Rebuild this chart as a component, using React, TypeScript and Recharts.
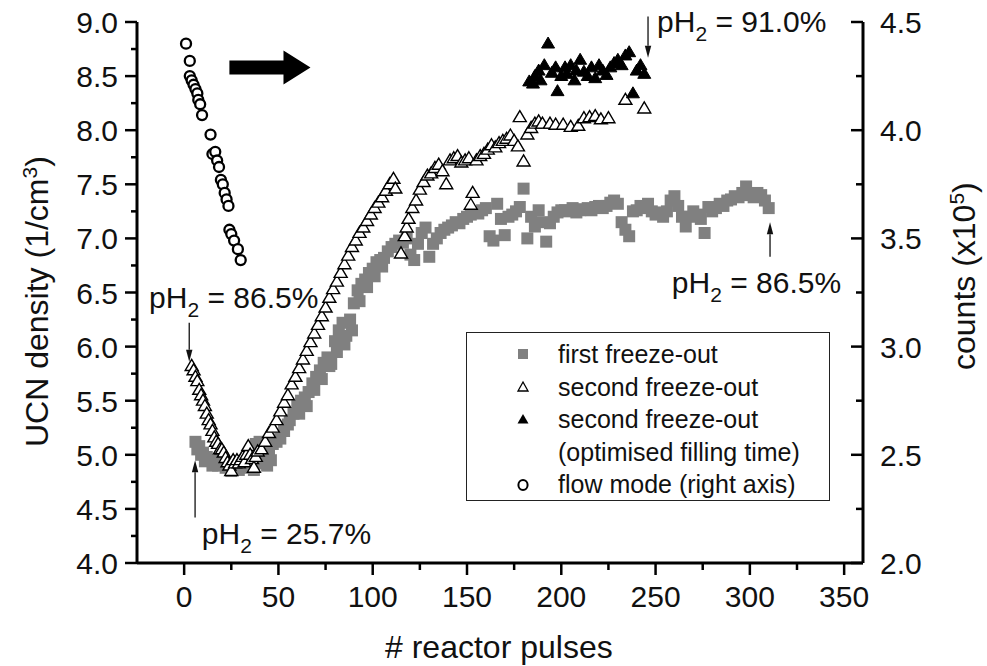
import React from "react";
import {
  ScatterChart,
  Scatter,
  XAxis,
  YAxis,
  ReferenceLine,
  ReferenceDot,
  Legend,
  Label,
} from "recharts";

const FONT = '"Liberation Sans", Arial, Helvetica, sans-serif';
const INK = "#111";

// tick values (major + minor)
const pulseTicks = [0, 25, 50, 75, 100, 125, 150, 175, 200, 225, 250, 275, 300, 325, 350];
const densityTicks = [4, 4.25, 4.5, 4.75, 5, 5.25, 5.5, 5.75, 6, 6.25, 6.5, 6.75, 7, 7.25, 7.5, 7.75, 8, 8.25, 8.5, 8.75, 9];
const countTicks = [2, 2.25, 2.5, 2.75, 3, 3.25, 3.5, 3.75, 4, 4.25, 4.5];

// first freeze-out: [pulse, UCN density]
const firstFreeze: [number, number][] = [
  [6, 5.12], [7, 5.05], [8, 5.08], [9, 5.0], [10, 5.02], [11, 4.94], [12, 4.98], [14, 4.95], [15, 4.9],
  [16, 4.93], [18, 4.9], [19, 4.95], [20, 4.92], [22, 4.88], [24, 4.9], [25, 4.85], [26, 4.88],
  [28, 4.9], [29, 4.86], [30, 4.92], [32, 4.88], [33, 4.94], [34, 4.9], [36, 4.92], [37, 4.86],
  [38, 5.1], [39, 4.95], [40, 5.12], [41, 5.05], [42, 4.92], [43, 5.08], [44, 4.9], [45, 5.02],
  [46, 4.95], [47, 5.1], [49, 5.12], [51, 5.15], [53, 5.22], [55, 5.28], [56, 5.32], [58, 5.38],
  [60, 5.45], [61, 5.38], [62, 5.5], [64, 5.53], [65, 5.45], [66, 5.58], [68, 5.66], [69, 5.6],
  [70, 5.72], [72, 5.78], [73, 5.7], [74, 5.85], [76, 5.9], [77, 5.82], [78, 5.84], [80, 6.05],
  [81, 5.95], [82, 6.15], [84, 6.22], [85, 6.02], [86, 6.1], [88, 6.25], [89, 6.15], [90, 6.4],
  [92, 6.52], [93, 6.42], [94, 6.58], [96, 6.62], [97, 6.55], [98, 6.68], [100, 6.72], [101, 6.65],
  [102, 6.78], [104, 6.8], [105, 6.74], [106, 6.82], [108, 6.88], [110, 6.92], [112, 6.95],
  [114, 6.98], [116, 6.96], [118, 7.0], [120, 6.85], [122, 6.8], [124, 6.95], [126, 7.05],
  [128, 7.1], [130, 6.83], [132, 6.95], [134, 7.0], [136, 7.05], [138, 7.08], [140, 7.1],
  [142, 7.12], [144, 7.15], [146, 7.14], [148, 7.18], [150, 7.2], [152, 7.22], [154, 7.24],
  [156, 7.23], [158, 7.26], [160, 7.28], [162, 7.02], [164, 6.98], [166, 7.32], [168, 7.18],
  [170, 7.03], [172, 7.2], [174, 7.22], [176, 7.25], [178, 7.29], [180, 7.46], [182, 7.0],
  [184, 7.2], [186, 7.11], [188, 7.26], [190, 7.15], [192, 6.97], [194, 7.14], [196, 7.2],
  [198, 7.24], [200, 7.26], [202, 7.26], [204, 7.25], [206, 7.28], [208, 7.24], [210, 7.26],
  [212, 7.27], [214, 7.28], [216, 7.26], [218, 7.29], [220, 7.3], [222, 7.28], [224, 7.3],
  [226, 7.33], [228, 7.35], [230, 7.32], [232, 7.15], [234, 7.08], [236, 7.02], [238, 7.25],
  [240, 7.26], [242, 7.3], [244, 7.28], [246, 7.32], [248, 7.25], [250, 7.22], [252, 7.24],
  [254, 7.2], [256, 7.25], [258, 7.35], [260, 7.39], [262, 7.3], [264, 7.2], [266, 7.11],
  [268, 7.2], [270, 7.25], [272, 7.22], [274, 7.18], [276, 7.05], [278, 7.29], [280, 7.25],
  [282, 7.28], [284, 7.32], [286, 7.3], [288, 7.35], [290, 7.36], [292, 7.39], [294, 7.38],
  [296, 7.42], [298, 7.48], [300, 7.4], [302, 7.38], [304, 7.42], [306, 7.4], [308, 7.35],
  [310, 7.28],
];

// second freeze-out
const secondFreeze: [number, number][] = [
  [4, 5.82], [5, 5.78], [6, 5.72], [7, 5.68], [8, 5.6], [9, 5.55], [10, 5.5], [11, 5.45],
  [12, 5.38], [13, 5.32], [14, 5.28], [15, 5.22], [16, 5.16], [17, 5.12], [18, 5.1], [19, 5.05],
  [20, 5.05], [21, 5.02], [22, 4.97], [23, 4.93], [24, 4.9], [25, 4.85], [26, 4.95], [27, 4.92],
  [28, 4.95], [29, 4.92], [30, 4.95], [31, 4.98], [32, 4.93], [33, 5.0], [34, 5.08], [35, 5.0],
  [36, 4.96], [37, 4.88], [38, 4.98], [39, 5.03], [41, 5.05], [43, 5.12], [45, 5.2], [47, 5.25],
  [49, 5.32], [51, 5.4], [53, 5.48], [55, 5.55], [57, 5.65], [59, 5.72], [61, 5.8], [63, 5.88],
  [65, 5.96], [67, 6.04], [69, 6.12], [71, 6.2], [73, 6.28], [75, 6.36], [77, 6.45], [79, 6.53],
  [81, 6.6], [83, 6.68], [85, 6.76], [87, 6.84], [89, 6.92], [91, 6.98], [93, 7.05], [95, 7.1],
  [97, 7.16], [99, 7.22], [101, 7.28], [103, 7.33], [105, 7.38], [107, 7.44], [109, 7.5],
  [111, 7.55], [112, 7.46], [115, 6.86], [117, 7.02], [118, 7.1], [119, 7.18], [121, 7.28],
  [123, 7.35], [125, 7.45], [127, 7.52], [129, 7.58], [131, 7.6], [133, 7.65], [135, 7.68],
  [137, 7.62], [139, 7.5], [141, 7.72], [143, 7.74], [145, 7.76], [147, 7.7], [149, 7.72],
  [151, 7.74], [152, 7.31], [153, 7.42], [155, 7.72], [157, 7.76], [159, 7.78], [161, 7.82],
  [163, 7.86], [165, 7.84], [167, 7.88], [169, 7.9], [171, 7.92], [173, 7.95], [175, 7.9],
  [177, 7.85], [178, 8.12], [180, 7.71], [182, 7.96], [184, 8.02], [186, 8.06], [188, 8.08],
  [190, 8.06], [194, 8.06], [197, 8.05], [201, 8.05], [205, 8.03], [209, 8.04], [212, 8.11],
  [215, 8.12], [218, 8.13], [221, 8.1], [225, 8.11], [234, 8.28], [244, 8.2],
];

// second freeze-out, optimised filling time
const secondOptimised: [number, number][] = [
  [183, 8.45], [185, 8.43], [186, 8.5], [188, 8.55], [189, 8.46], [191, 8.6], [193, 8.8],
  [195, 8.53], [197, 8.58], [198, 8.36], [200, 8.5], [202, 8.58], [203, 8.52], [205, 8.6],
  [207, 8.46], [208, 8.55], [210, 8.65], [212, 8.54], [214, 8.5], [216, 8.58], [218, 8.48],
  [220, 8.6], [222, 8.55], [224, 8.51], [226, 8.58], [228, 8.62], [230, 8.65], [232, 8.6],
  [234, 8.69], [236, 8.72], [238, 8.34], [240, 8.55], [242, 8.6], [244, 8.52],
];

// flow mode: [pulse, counts x10^5] on right axis
const flowMode: [number, number][] = [
  [1, 4.4], [3, 4.32], [3, 4.25], [4, 4.23], [5, 4.21], [6, 4.19], [7, 4.17], [7.5, 4.14],
  [8.5, 4.12], [9.5, 4.07], [14, 3.98], [15, 3.89], [16.5, 3.9], [17.5, 3.86], [18.5, 3.83],
  [19.5, 3.77], [20.5, 3.75], [21.5, 3.71], [22.5, 3.68], [23.5, 3.65], [24, 3.54], [25, 3.52],
  [26.5, 3.49], [28.5, 3.45], [30, 3.4],
];

// pH2 annotations: text anchor + arrow (tail -> tip), data coords of left axis
const annotations = [
  { text: "86.5%", tx: -18.6, ty: 6.36, from: [2.7, 6.22], to: [2.7, 5.86] },
  { text: "25.7%", tx: 9.4, ty: 4.18, from: [5.8, 4.42], to: [5.8, 4.95] },
  { text: "91.0%", tx: 250.8, ty: 8.91, from: [246, 9.05], to: [246, 8.67] },
  { text: "86.5%", tx: 258.6, ty: 6.5, from: [310.7, 6.83], to: [310.7, 7.15] },
];

const toPoints = (arr: [number, number][]) => arr.map(([x, y]) => ({ x, y }));

const isMajor = (v: number, step: number) => Math.abs(v / step - Math.round(v / step)) < 1e-6;

const BottomTick = (props: any) => {
  const { x, y, payload } = props;
  const major = isMajor(payload.value, 50);
  return (
    <g>
      <line x1={x} x2={x} y1={y} y2={y + (major ? 12 : 7)} stroke="#000" strokeWidth={2.5} />
      {major && (
        <text x={x} y={y + 44} textAnchor="middle" fontSize={30} fontFamily={FONT} fill={INK}>
          {payload.value}
        </text>
      )}
    </g>
  );
};

const LeftTick = (props: any) => {
  const { x, y, payload } = props;
  const major = isMajor(payload.value, 0.5);
  return (
    <g>
      <line x1={x - (major ? 12 : 6)} x2={x} y1={y} y2={y} stroke="#000" strokeWidth={2.5} />
      {major && (
        <text x={x - 19} y={y + 11} textAnchor="end" fontSize={30} fontFamily={FONT} fill={INK}>
          {payload.value.toFixed(1)}
        </text>
      )}
    </g>
  );
};

const RightTick = (props: any) => {
  const { x, y, payload } = props;
  const major = isMajor(payload.value, 0.5);
  return (
    <g>
      <line x1={x - (major ? 12 : 7)} x2={x} y1={y} y2={y} stroke="#000" strokeWidth={2.5} />
      {major && (
        <text x={x + 17} y={y + 11} textAnchor="start" fontSize={30} fontFamily={FONT} fill={INK}>
          {payload.value.toFixed(1)}
        </text>
      )}
    </g>
  );
};

const SquareShape = (p: any) => (
  <rect x={p.cx - 6} y={p.cy - 6} width={12} height={12} fill="#808080" />
);

const triPath = (cx: number, cy: number, w: number, h: number) =>
  `M${cx},${cy - h * 0.6} L${cx + w / 2},${cy + h * 0.4} L${cx - w / 2},${cy + h * 0.4} Z`;

const OpenTri = (p: any) => (
  <path d={triPath(p.cx, p.cy, 13, 11)} fill="#fff" stroke="#000" strokeWidth={1.4} />
);

const FilledTri = (p: any) => (
  <path d={triPath(p.cx, p.cy, 13, 11)} fill="#000" stroke="#000" strokeWidth={1} />
);

const CircleShape = (p: any) => (
  <circle cx={p.cx} cy={p.cy} r={5} fill="#fff" stroke="#000" strokeWidth={2.3} />
);

const ThinArrow = (props: any) => {
  const { x1, y1, x2, y2 } = props;
  const dir = Math.sign(y2 - y1) || 1;
  const headLen = 12;
  const headW = 3.2;
  return (
    <g>
      <line x1={x1} y1={y1} x2={x2} y2={y2 - dir * headLen} stroke={INK} strokeWidth={1.3} />
      <polygon
        points={`${x2},${y2} ${x2 - headW},${y2 - dir * headLen} ${x2 + headW},${y2 - dir * headLen}`}
        fill={INK}
      />
    </g>
  );
};

const BigArrow = (props: any) => {
  const { x1, y1, x2 } = props;
  const headLen = 27;
  const shaft = 7;
  const head = 17;
  const xs = x2 - headLen;
  return (
    <polygon
      points={`${x1},${y1 - shaft} ${xs},${y1 - shaft} ${xs},${y1 - head} ${x2},${y1} ${xs},${y1 + head} ${xs},${y1 + shaft} ${x1},${y1 + shaft}`}
      fill="#000"
    />
  );
};

const PhText = ({ cx, cy, value }: { cx: number; cy: number; value: string }) => (
  <text x={cx} y={cy} fontSize={30} fontFamily={FONT} fill={INK}>
    <tspan>pH</tspan>
    <tspan dy={9} fontSize={21}>2</tspan>
    <tspan dy={-9}>{` = ${value}`}</tspan>
  </text>
);

const LegendSymbol = ({ kind }: { kind: string }) => (
  <svg width={16} height={16} style={{ display: "block" }}>
    {kind === "square" && <rect x={3} y={3} width={10} height={10} fill="#808080" />}
    {kind === "open" && <path d="M8,3 L13,12 L3,12 Z" fill="#fff" stroke="#000" strokeWidth={1.3} />}
    {kind === "filled" && <path d="M8,3 L13.5,12.5 L2.5,12.5 Z" fill="#000" />}
    {kind === "circle" && <ellipse cx={8} cy={9} rx={4.6} ry={5} fill="none" stroke="#000" strokeWidth={2} />}
  </svg>
);

const legendRows = [
  { kind: "square", label: "first freeze-out" },
  { kind: "open", label: "second freeze-out" },
  { kind: "filled", label: "second freeze-out" },
  { kind: "", label: "(optimised filling time)" },
  { kind: "circle", label: "flow mode (right axis)" },
];

const LegendBox = () => (
  <div
    style={{
      width: 364,
      height: 169,
      boxSizing: "border-box",
      border: "1.5px solid #222",
      paddingTop: 5,
      background: "#fff",
      fontFamily: FONT,
      fontSize: 25,
      color: INK,
    }}
  >
    {legendRows.map((r, i) => (
      <div key={i} style={{ display: "flex", alignItems: "center", height: 32.5 }}>
        <div style={{ width: 91, display: "flex", justifyContent: "flex-start", paddingLeft: 48, boxSizing: "border-box" }}>
          {r.kind && <LegendSymbol kind={r.kind} />}
        </div>
        <span style={{ whiteSpace: "nowrap", lineHeight: "32px" }}>{r.label}</span>
      </div>
    ))}
  </div>
);

export default function App() {
  return (
    <div style={{ position: "absolute", left: 0, top: 0, background: "#fff" }}>
      <ScatterChart width={987} height={666} margin={{ top: 22, right: 0, bottom: 0, left: 0 }}>
        <XAxis
          type="number"
          dataKey="x"
          domain={[-25, 360]}
          ticks={pulseTicks}
          interval={0}
          height={103}
          tickSize={0}
          tickMargin={0}
          tickLine={false}
          axisLine={{ stroke: "#000", strokeWidth: 3 }}
          tick={<BottomTick />}
          allowDataOverflow
        >
          <Label
            content={(p: any) => (
              <text x={385} y={p.viewBox.y + 95} fontSize={32} fontFamily={FONT} fill={INK}>
                # reactor pulses
              </text>
            )}
          />
        </XAxis>
        <YAxis
          yAxisId="left"
          type="number"
          dataKey="y"
          domain={[4, 9]}
          ticks={densityTicks}
          interval={0}
          width={137}
          tickSize={0}
          tickMargin={0}
          tickLine={false}
          axisLine={{ stroke: "#000", strokeWidth: 3 }}
          tick={<LeftTick />}
          allowDataOverflow
        >
          <Label
            content={() => (
              <text x={48} y={447} transform="rotate(-90 48 447)" fontSize={32} fontFamily={FONT} fill={INK}>
                UCN density (1/cm
                <tspan dy={-11} fontSize={21}>3</tspan>
                <tspan dy={11}>)</tspan>
              </text>
            )}
          />
        </YAxis>
        <YAxis
          yAxisId="right"
          orientation="right"
          type="number"
          dataKey="y"
          domain={[2, 4.5]}
          ticks={countTicks}
          interval={0}
          width={124}
          tickSize={0}
          tickMargin={0}
          tickLine={false}
          axisLine={{ stroke: "#000", strokeWidth: 3 }}
          tick={<RightTick />}
          allowDataOverflow
        >
          <Label
            content={() => (
              <text x={975} y={370} transform="rotate(-90 975 370)" fontSize={32} fontFamily={FONT} fill={INK}>
                counts (x10
                <tspan dy={-11} fontSize={21}>5</tspan>
                <tspan dy={11}>)</tspan>
              </text>
            )}
          />
        </YAxis>

        <Scatter
          name="first freeze-out"
          yAxisId="left"
          data={toPoints(firstFreeze)}
          shape={SquareShape}
          isAnimationActive={false}
        />
        <Scatter
          name="second freeze-out"
          yAxisId="left"
          data={toPoints(secondFreeze)}
          shape={OpenTri}
          isAnimationActive={false}
        />
        <Scatter
          name="second freeze-out (optimised filling time)"
          yAxisId="left"
          data={toPoints(secondOptimised)}
          shape={FilledTri}
          isAnimationActive={false}
        />
        <Scatter
          name="flow mode (right axis)"
          yAxisId="right"
          data={toPoints(flowMode)}
          shape={CircleShape}
          isAnimationActive={false}
        />

        <ReferenceLine
          yAxisId="left"
          segment={[{ x: 24, y: 8.58 }, { x: 67, y: 8.58 }]}
          ifOverflow="visible"
          shape={BigArrow}
        />
        {annotations.map((a, i) => (
          <ReferenceLine
            key={`arr-${i}`}
            yAxisId="left"
            segment={[{ x: a.from[0], y: a.from[1] }, { x: a.to[0], y: a.to[1] }]}
            ifOverflow="visible"
            shape={ThinArrow}
          />
        ))}
        {annotations.map((a, i) => (
          <ReferenceDot
            key={`txt-${i}`}
            yAxisId="left"
            x={a.tx}
            y={a.ty}
            r={0}
            ifOverflow="visible"
            shape={(p: any) => <PhText cx={p.cx} cy={p.cy} value={a.text} />}
          />
        ))}

        <Legend
          layout="vertical"
          align="center"
          verticalAlign="middle"
          wrapperStyle={{ left: 466, top: 332, width: 364, height: 169 }}
          content={<LegendBox />}
        />
      </ScatterChart>
    </div>
  );
}
